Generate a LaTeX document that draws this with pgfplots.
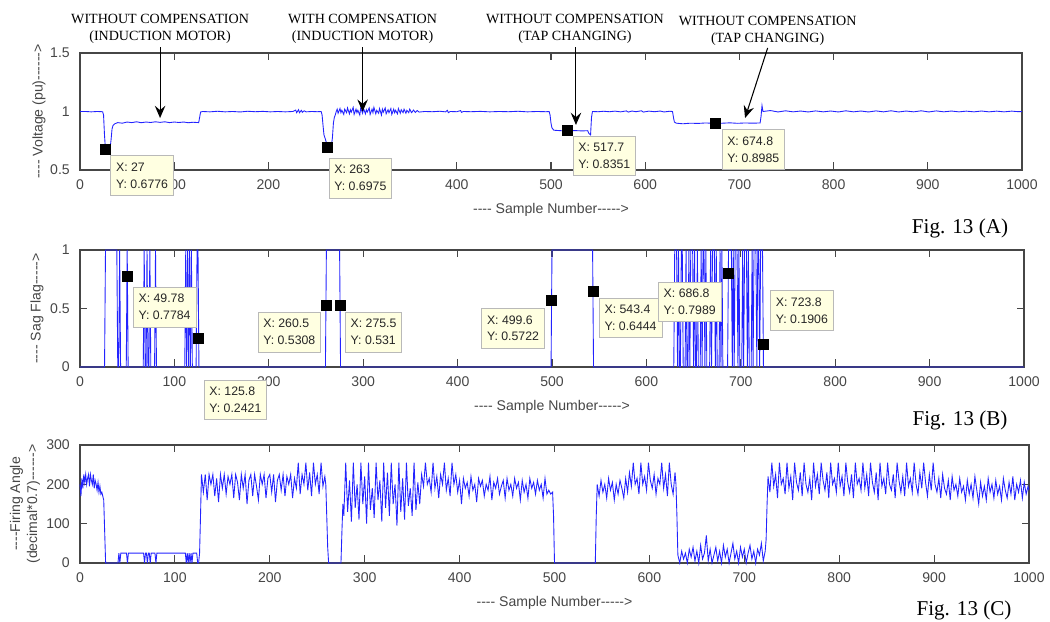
\documentclass[border=0pt]{standalone}
\usepackage{fontspec}
\setmainfont{Liberation Sans}
\newfontfamily\seriffont{Liberation Serif}
\usepackage{pgfplots}
\pgfplotsset{compat=1.18}
\usetikzlibrary{arrows.meta}

\definecolor{mlblue}{RGB}{35,35,255}
\definecolor{tipbg}{RGB}{255,255,225}
\definecolor{axgray}{RGB}{70,70,70}
\newcommand*\hh{-\kern0pt}

\pgfplotsset{
  panel/.style={
    scale only axis, xmin=0, xmax=1000, xtick={0,100,...,1000},
    scaled ticks=false, clip=false,
    axis line style={axgray, line width=0.7pt},
    tick style={axgray, line width=0.6pt}, major tick length=0.15cm,
    ticklabel style={font=\fontsize{8}{9}\selectfont, text=axgray},
    xticklabel style={yshift=-0.06cm},
    yticklabel style={xshift=-0.08cm},
    label style={font=\fontsize{8}{9.6}\selectfont, text=axgray},
    /pgf/number format/assume math mode=true,
    /pgf/number format/1000 sep={},
    xlabel={\hh\hh\hh\hh\ Sample Number\hh\hh\hh\hh\hh>},
    xlabel style={yshift=-0.05cm},
  },
}
\tikzset{
  tip/.style={draw=gray!55, fill=tipbg, font=\fontsize{7}{9.6}\selectfont,
    text=black!85, align=left, inner xsep=3pt, inner ysep=4pt},
  ann/.style={font=\seriffont\fontsize{8}{9.6}\selectfont, align=center},
  arr/.style={-{Stealth[length=7pt,width=6pt,inset=2.5pt]}, line width=0.6pt},
}

\begin{document}
\begin{tikzpicture}
\useasboundingbox (0,0) rectangle (21cm,12.44cm);

% ---------------- (A) voltage
\begin{axis}[panel, at={(1.6cm,9.04cm)}, anchor=south west,
  width=18.84cm, height=2.34cm, ymin=0.5, ymax=1.5, ytick={0.5,1,1.5},
  ylabel={\hh\hh\hh\hh\ Voltage (pu)\hh\hh\hh\hh\hh\hh>},
  ylabel style={at={(axis description cs:-0.0435,0.5)}, anchor=center}]
\addplot[mlblue, line width=0.5pt] coordinates {
(0,1.0) (6,1.0) (12,0.997) (18,1.0) (24,0.998) (25,0.97) (26,0.8) (27,0.6776) (29,0.68) (31,0.672) (32,0.69) (33,0.76) (34,0.85) (35,0.88) (37,0.895) (40,0.905) (45,0.9) (50,0.91) (55,0.905) (60,0.912) (65,0.904) (70,0.91) (75,0.906) (80,0.912) (85,0.907) (90,0.912) (95,0.905) (100,0.91) (105,0.906) (110,0.91) (115,0.904) (120,0.908) (126,0.905) (127,0.95) (128,0.995) (130,1.0) (138,0.997) (146,1.002) (154,0.997) (162,1.0) (170,0.996) (178,1.002) (186,0.998) (194,1.001) (202,0.997) (210,1.0) (218,0.997) (226,1.0) (229,1.012) (230,0.99) (232,1.015) (233,0.99) (235,1.01) (236,0.993) (238,1.006) (240,0.997) (246,1.0) (252,0.998) (256,1.0) (257,0.97) (258,0.88) (259,0.8) (261,0.75) (263,0.6975) (265,0.695) (267,0.71) (268,0.78) (269,0.9) (270,0.95) (271,0.97) (272,1.0)
(273,1.02) (274,0.985) (276,1.025) (277,0.99) (278,1.01) (280,0.975) (281,1.02) (283,0.99) (284,1.03) (286,0.98) (287,1.015) (288,0.995) (290,1.035) (291,0.975) (293,1.02) (294,0.99) (295,1.01) (297,0.97) (298,1.03) (300,0.985) (301,1.025) (303,0.98) (304,1.015) (305,0.995) (307,1.03) (308,0.975) (310,1.02) (311,0.99) (312,1.035) (314,0.98) (315,1.01) (317,0.985) (318,1.025) (320,0.97) (321,1.02) (322,0.995) (324,1.03) (325,0.98) (327,1.015) (328,0.99) (330,1.025) (331,0.975) (333,1.02) (334,0.99) (335,1.01) (337,0.98) (338,1.025) (340,0.985) (341,1.015) (343,0.99) (344,1.02) (346,0.985) (347,1.01) (349,0.99) (350,1.02) (352,0.99) (354,1.012) (356,0.992) (358,1.008) (360,0.995)
(366,1.0) (374,0.998) (382,1.002) (388,0.997) (390,1.01) (391,0.99) (393,1.0) (400,0.998) (404,1.008) (405,0.993) (407,1.0) (415,0.998) (425,1.001) (435,0.997) (445,1.0) (455,0.998) (465,1.002) (475,0.997) (485,1.0) (495,0.998) (498,1.0) (499,0.97) (500,0.9) (501,0.86) (503,0.84) (510,0.836) (517.7,0.8351) (525,0.837) (533,0.834) (539,0.836) (540,0.815) (542,0.8) (543,0.95) (544,1.0) (550,0.998) (556,1.002) (562,0.998) (568,1.003) (574,0.997) (580,1.005) (582,0.995) (586,1.004) (590,0.998) (596,1.006) (598,0.995) (604,1.003) (610,0.998) (616,1.004) (620,0.996) (626,1.002) (629,1.0) (630,0.95) (631,0.91) (633,0.9) (640,0.895) (648,0.9) (656,0.898) (664,0.902) (674.8,0.8985) (682,0.9) (690,0.903) (698,0.899) (706,0.902) (714,0.9) (722,0.902) (723,0.96) (724,1.05) (725,1.0)
(733,1.008) (741,0.996) (749,1.006) (757,0.997) (765,1.004) (773,0.996) (781,1.005) (789,0.997) (797,1.004) (805,0.996) (813,1.006) (821,0.997) (829,1.004) (837,0.996) (845,1.005) (853,0.997) (861,1.006) (869,0.996) (877,1.004) (885,0.997) (893,1.006) (901,0.996) (909,1.005) (917,0.997) (925,1.004) (933,0.997) (941,1.003) (949,0.997) (957,1.004) (965,0.997) (973,1.003) (981,0.997) (989,1.003) (997,0.998) (1000,1.0)
};
\addplot[only marks, mark=square*, mark size=0.1cm, black] coordinates {
(27,0.6776) (263,0.6975) (517.7,0.8351) (674.8,0.8985)};
\coordinate (a1) at (axis cs:27,0.6776);
\coordinate (a2) at (axis cs:263,0.6975);
\coordinate (a3) at (axis cs:517.7,0.8351);
\coordinate (a4) at (axis cs:674.8,0.8985);
% annotations
\node[ann] at (axis cs:85,1.709) {WITHOUT COMPENSATION\\(INDUCTION MOTOR)};
\draw[arr] (axis cs:85,1.551) -- (axis cs:85,0.944);
\node[ann] at (axis cs:300,1.709) {WITH COMPENSATION\\(INDUCTION MOTOR)};
\draw[arr] (axis cs:300,1.551) -- (axis cs:300,0.998);
\node[ann] at (axis cs:525.5,1.709) {WITHOUT COMPENSATION\\(TAP CHANGING)};
\draw[arr] (axis cs:526.5,1.551) -- (axis cs:526.5,0.885);
\node[ann] at (axis cs:730,1.688) {WITHOUT COMPENSATION\\(TAP CHANGING)};
\draw[arr] (axis cs:730,1.543) -- (axis cs:706,0.944);
\end{axis}
\node[tip, anchor=north west, xshift=0.1cm, yshift=-0.12cm] at (a1) {X: 27\\Y: 0.6776};
\node[tip, anchor=north west, xshift=0.02cm, yshift=-0.22cm] at (a2) {X: 263\\Y: 0.6975};
\node[tip, anchor=north west, xshift=0.1cm, yshift=-0.1cm] at (a3) {X: 517.7\\Y: 0.8351};
\node[tip, anchor=north west, xshift=0.12cm, yshift=-0.12cm] at (a4) {X: 674.8\\Y: 0.8985};
\node[font=\seriffont\fontsize{12}{14}\selectfont] at (19.2cm,7.88cm) {Fig. 13 (A)};

% ---------------- (B) sag flag
\begin{axis}[panel, at={(1.6cm,5.10cm)}, anchor=south west,
  width=18.88cm, height=2.34cm, ymin=0, ymax=1, ytick={0,0.5,1},
  ylabel={\hh\hh\hh\hh\ Sag Flag\hh\hh\hh\hh\hh>},
  ylabel style={at={(axis description cs:-0.0455,0.5)}, anchor=center}]
\addplot[mlblue, line width=0.5pt] coordinates {
(0,0) (26,0) (27,1) (39,1) (40,0) (41,0) (42,1) (43,0) (49,0) (50,1) (51,0) (67,0) (68,1) (69,0) (70,0) (71,1) (72,0) (73,0) (74,1) (75,0) (79,0) (80,1) (81,0) (111,0) (112,1) (113,0) (114,1) (115,0) (116,1) (117,0) (118,1) (119,0) (123,0) (124,1) (125,1) (126,0) (260,0) (261,1) (275,1) (276,0) (499,0) (500,1) (543,1) (544,0)
(629,0) (630,1) (632,1) (633,0) (634,1) (635,0) (636,0) (637,1) (638,1) (639,0) (641,0) (642,1) (643,0) (644,0) (645,1) (646,0) (647,1) (649,1) (650,0) (651,1) (652,0) (653,0) (654,1) (655,0) (657,0) (658,1) (659,0) (660,1) (661,1) (662,0) (663,1) (664,0) (667,0) (668,1) (669,0) (670,1) (672,1) (673,0) (674,1) (675,0) (677,0) (678,1) (679,0) (680,1) (681,0) (686,0) (687,1) (690,1) (691,0) (692,1) (693,0) (694,1) (696,1) (697,0) (698,1) (699,0) (701,0) (702,1) (703,0) (704,1) (706,1) (707,0) (708,1) (709,0) (711,0) (712,1) (713,0) (714,1) (716,1) (717,0) (718,1) (719,1) (720,0) (721,1) (723,1) (724,0) (1000,0)
};
\addplot[only marks, mark=square*, mark size=0.1cm, black] coordinates {
(49.78,0.7784) (125.8,0.2421) (260.5,0.5308) (275.5,0.531) (499.6,0.5722) (543.4,0.6444) (686.8,0.7989) (723.8,0.1906)};
\coordinate (b1) at (axis cs:49.78,0.7784);
\coordinate (b2) at (axis cs:125.8,0.2421);
\coordinate (b3) at (axis cs:260.5,0.5308);
\coordinate (b4) at (axis cs:275.5,0.531);
\coordinate (b5) at (axis cs:499.6,0.5722);
\coordinate (b6) at (axis cs:543.4,0.6444);
\coordinate (b7) at (axis cs:686.8,0.7989);
\coordinate (b8) at (axis cs:723.8,0.1906);
\end{axis}
\node[tip, anchor=north west, xshift=0.12cm, yshift=-0.22cm] at (b1) {X: 49.78\\Y: 0.7784};
\node[tip, anchor=north west, xshift=0.1cm, yshift=-0.82cm] at (b2) {X: 125.8\\Y: 0.2421};
\node[tip, anchor=north east, xshift=-0.1cm, yshift=-0.14cm] at (b3) {X: 260.5\\Y: 0.5308};
\node[tip, anchor=north west, xshift=0.1cm, yshift=-0.14cm] at (b4) {X: 275.5\\Y: 0.531};
\node[tip, anchor=north east, xshift=-0.14cm, yshift=-0.16cm] at (b5) {X: 499.6\\Y: 0.5722};
\node[tip, anchor=north west, xshift=0.12cm, yshift=-0.12cm] at (b6) {X: 543.4\\Y: 0.6444};
\node[tip, anchor=north east, xshift=-0.14cm, yshift=-0.16cm] at (b7) {X: 686.8\\Y: 0.7989};
\node[tip, anchor=south west, xshift=0.14cm, yshift=0.28cm] at (b8) {X: 723.8\\Y: 0.1906};
\node[font=\seriffont\fontsize{12}{14}\selectfont] at (19.2cm,4.04cm) {Fig. 13 (B)};

% ---------------- (C) firing angle
\begin{axis}[panel, at={(1.6cm,1.18cm)}, anchor=south west,
  width=18.98cm, height=2.36cm, ymin=0, ymax=300, ytick={0,100,200,300},
  ylabel={\hh\hh\hh\hh Firing Angle\\(decimal*0.7)\hh\hh\hh\hh\hh\hh>},
  ylabel style={at={(axis description cs:-0.058,0.5)}, anchor=center, align=center}]
\addplot[mlblue, line width=0.5pt] coordinates {
(0,200) (1,170) (2,215) (3,190) (4,225) (5,205) (6,225) (7,200) (8,215) (9,225) (10,195) (11,225) (12,210) (13,200) (14,225) (15,190) (16,210) (17,200) (18,185) (19,205) (20,180) (21,195) (22,175) (23,180) (24,170) (25,160) (26,80) (27,0)
(40,0) (41,25) (42,0) (43,25) (49,25) (50,0) (51,25) (67,25) (68,0) (69,25) (70,25) (71,0) (72,25) (73,25) (74,0) (75,25) (79,25) (80,0) (81,25) (111,25) (112,0) (113,25) (114,0) (115,25) (116,0) (117,25) (118,0) (119,25) (123,25) (124,0) (125,0) (126,25) (127,120) (128,225)
(130,180) (132,225) (134,160) (136,225) (138,200) (140,225) (142,170) (144,215) (146,155) (148,225) (150,190) (152,225) (154,175) (156,220) (158,200) (160,225) (162,165) (164,225) (166,205) (168,160) (170,225) (172,190) (174,225) (176,150) (178,210) (180,225) (182,170) (184,225) (186,195) (188,160) (190,225) (192,200) (194,225) (196,165) (198,215) (200,225) (202,180) (204,225) (206,155) (208,210) (210,225) (212,185) (214,225) (216,170) (218,220) (220,200) (222,225) (224,165) (226,215) (228,190) (230,255) (232,175) (234,225) (236,200) (238,255) (240,185) (242,230) (244,170) (246,255) (248,200) (250,225) (252,175) (254,255) (256,195) (258,220) (259,200) (260,120) (261,40) (262,0)
(275,0) (276,80) (277,150)
(278,120) (280,255) (282,130) (284,210) (286,105) (288,255) (290,140) (292,200) (294,110) (296,255) (298,150) (300,220) (302,100) (304,255) (306,135) (308,190) (310,115) (312,255) (314,160) (316,210) (318,105) (320,255) (322,140) (324,230) (326,120) (328,255) (330,150) (332,200) (334,95) (336,255) (338,130) (340,215) (342,110) (344,255) (346,145) (348,190) (350,120) (352,255) (354,135) (356,205) (358,150) (360,225)
(362,195) (364,255) (366,200) (368,215) (370,180) (372,255) (374,190) (376,220) (378,165) (380,225) (382,200) (384,255) (386,185) (388,215) (390,170) (392,255) (394,200) (396,225) (398,180) (400,210) (402,150) (404,215) (406,190) (408,205) (410,170) (412,220) (414,185) (416,200) (418,155) (420,215) (422,195) (424,210) (426,170) (428,200) (430,185) (432,220) (434,160) (436,205) (438,190) (440,215) (442,175) (444,195) (446,210) (448,165) (450,215) (452,185) (454,200) (456,170) (458,215) (460,190) (462,205) (464,160) (466,210) (468,180) (470,200) (472,165) (474,215) (476,190) (478,205) (480,175) (482,210) (484,185) (486,200) (488,165) (490,215) (492,175) (494,185) (496,175) (498,180) (499,120) (500,0)
(543,0) (544,120) (545,200)
(547,170) (549,210) (551,180) (553,200) (555,165) (557,215) (559,185) (561,205) (563,160) (565,200) (567,175) (569,210) (571,190) (573,165) (575,215) (577,180) (579,230) (581,195) (583,255) (585,200) (587,215) (589,175) (591,255) (593,200) (595,220) (597,185) (599,255) (601,210) (603,190) (605,225) (607,175) (609,215) (611,200) (613,255) (615,190) (617,225) (619,170) (621,255) (623,200) (625,175) (627,230) (628,200) (629,120) (630,20)
(632,0) (634,30) (636,10) (638,25) (640,0) (642,35) (644,15) (646,40) (648,5) (650,30) (652,0) (654,45) (656,10) (658,25) (660,70) (662,5) (664,35) (666,0) (668,20) (670,40) (672,5) (674,30) (676,0) (678,45) (680,15) (682,35) (684,0) (686,25) (688,50) (690,10) (692,30) (694,0) (696,40) (698,15) (700,35) (702,0) (704,25) (706,45) (708,10) (710,30) (712,0) (714,35) (716,20) (718,50) (720,5) (722,30) (723,60) (724,150) (725,220)
(727,180) (729,255) (731,195) (733,225) (735,165) (737,255) (739,200) (741,215) (743,175) (745,255) (747,190) (749,220) (751,160) (753,255) (755,205) (757,185) (759,230) (761,170) (763,255) (765,200) (767,180) (769,215) (771,160) (773,255) (775,195) (777,225) (779,175) (781,255) (783,210) (785,185) (787,230) (789,165) (791,255) (793,200) (795,215) (797,180) (799,255) (801,195) (803,220) (805,170) (807,255) (809,205) (811,180) (813,225) (815,165) (817,255) (819,200) (821,215) (823,185) (825,255) (827,190) (829,225) (831,170) (833,255) (835,205) (837,180) (839,230) (841,160) (843,255) (845,195) (847,215) (849,175) (851,255) (853,200) (855,185) (857,225) (859,165) (861,255) (863,210) (865,180) (867,220) (869,170) (871,255) (873,195) (875,215) (877,180) (879,255) (881,200) (883,175) (885,230) (887,190) (889,255) (891,205) (893,170) (895,225) (897,185) (899,255)
(901,200) (903,180) (905,215) (907,165) (909,225) (911,190) (913,175) (915,210) (917,160) (919,220) (921,185) (923,200) (925,170) (927,215) (929,180) (931,195) (933,160) (935,210) (937,175) (939,200) (941,165) (943,220) (945,185) (947,150) (949,205) (951,170) (953,195) (955,160) (957,215) (959,180) (961,200) (963,165) (965,210) (967,175) (969,195) (971,160) (973,215) (975,185) (977,165) (979,205) (981,175) (983,220) (985,160) (987,200) (989,180) (991,210) (993,165) (995,205) (997,175) (999,195) (1000,185)
};
\end{axis}
\node[font=\seriffont\fontsize{12}{14}\selectfont] at (19.28cm,0.24cm) {Fig. 13 (C)};
\end{tikzpicture}
\end{document}
